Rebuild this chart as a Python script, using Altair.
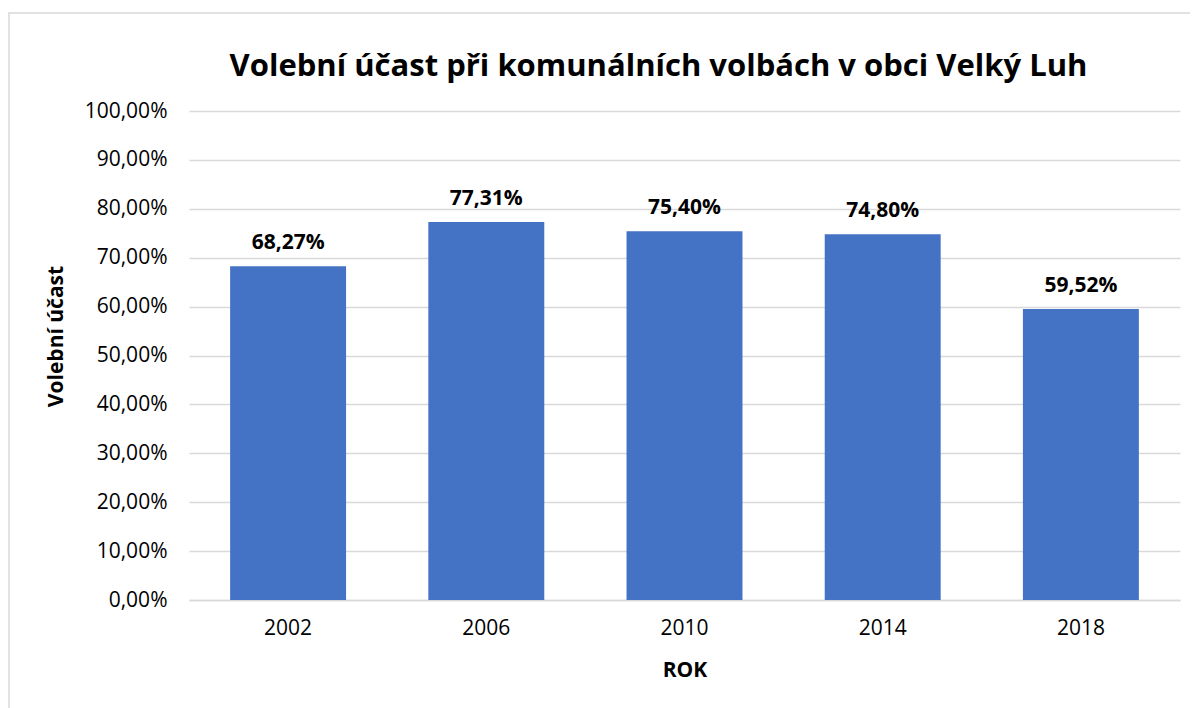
import altair as alt
import pandas as pd

years = ["2002", "2006", "2010", "2014", "2018"]
turnout = [0.6827, 0.7731, 0.7540, 0.7480, 0.5952]
labels = ["68,27%", "77,31%", "75,40%", "74,80%", "59,52%"]
title_text = ["Volební účast při komunálních volbách v obci Velký Luh"]

df = pd.DataFrame({"rok": years, "ucast": turnout, "label": labels})
df_title = pd.DataFrame({"t": title_text})

FONT = "Open Sans"
W, H = 991, 489
PL, PT = 181, 103

base = alt.Chart(df)

border = base.mark_rect(fill=None, stroke="#d9d9d9", strokeWidth=1.5, clip=False).encode(
    x=alt.value(-PL + 1), x2=alt.value(W + 200),
    y=alt.value(-PT + 5), y2=alt.value(H + 200)
).transform_filter("datum.rok == '2002'")

title = alt.Chart(df_title).mark_text(
    font=FONT, fontSize=31, fontWeight="bold", color="#000000",
    align="center", baseline="alphabetic", clip=False
).encode(x=alt.value(W / 2 - 26), y=alt.value(-35), text="t:N")

bars = base.mark_bar(color="#4472C4").encode(
    x=alt.X("rok:N", sort=years,
            scale=alt.Scale(paddingInner=0.415, paddingOuter=0.2075),
            axis=alt.Axis(title="ROK", labelAngle=0, labelFont=FONT, labelFontSize=21,
                          labelColor="#000000", labelPadding=17, tickSize=0,
                          domainColor="#d9d9d9", domainWidth=1.5,
                          titleFont=FONT, titleFontSize=21, titleFontWeight="bold",
                          titleColor="#000000", titleY=70, titleBaseline="middle")),
    y=alt.Y("ucast:Q", scale=alt.Scale(domain=[0, 1]),
            axis=alt.Axis(title="Volební účast", values=[i / 10 for i in range(11)],
                          labelExpr="replace(format(datum.value, '.2%'), '.', ',')",
                          labelFont=FONT, labelFontSize=21, labelColor="#000000",
                          labelPadding=22, tickSize=0, domain=False,
                          gridColor="#d9d9d9", gridWidth=1.5,
                          titleFont=FONT, titleFontSize=21, titleFontWeight="bold",
                          titleColor="#000000", titleAngle=-90, titleX=-133,
                          titleY=225, titleBaseline="middle", titleAlign="center"))
)

text = base.mark_text(font=FONT, fontSize=21, fontWeight="bold", color="#000000",
                      baseline="alphabetic", dy=-17).encode(
    x=alt.X("rok:N", sort=years),
    y="ucast:Q",
    text="label:N"
)

chart = alt.layer(border, bars, text, title).properties(
    width=W, height=H,
    padding={"left": PL, "top": PT, "right": 10, "bottom": 110},
    autosize=alt.AutoSizeParams(type="none"),
).configure_view(stroke=None)

chart.save("out.html", embed_options={"renderer": "svg", "actions": False})
